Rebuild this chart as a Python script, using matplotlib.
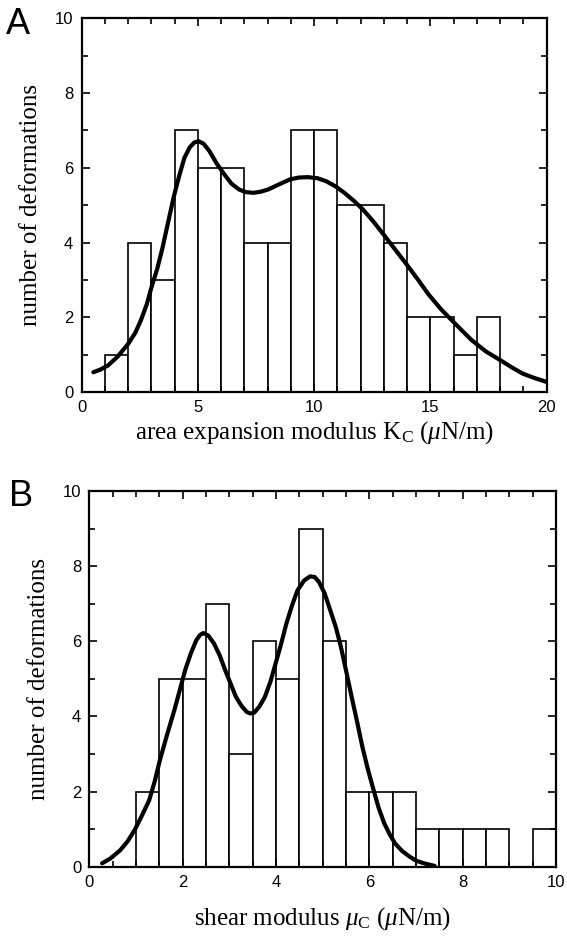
import numpy as np
import matplotlib.pyplot as plt
from matplotlib.ticker import MultipleLocator

# panel A: area expansion modulus histogram (bin width 1)
edges_a = list(range(0, 20))
counts_a = [0, 1, 4, 3, 7, 6, 6, 4, 4, 7, 7, 5, 5, 4, 2, 2, 1, 2, 0, 0]
fit_a_x = [0.5, 0.8, 1.13, 1.55, 2.0, 2.3, 2.54, 2.8, 3.0, 3.25, 3.48, 3.72,
           3.95, 4.2, 4.42, 4.65, 4.85, 5.04, 5.25, 5.5, 5.8, 6.14, 6.45, 6.77,
           7.05, 7.39, 7.7, 8.02, 8.5, 8.96, 9.35, 9.74, 10.15, 10.52, 10.9,
           11.3, 11.7, 12.09, 12.55, 13.03, 13.5, 13.97, 14.45, 14.91, 15.45,
           16.0, 16.4, 16.79, 17.4, 18.04, 18.5, 18.98, 19.5, 20.0]
fit_a_y = [0.53, 0.6, 0.71, 0.95, 1.29, 1.58, 1.91, 2.35, 2.8, 3.3, 3.87, 4.55,
           5.2, 5.8, 6.27, 6.55, 6.68, 6.71, 6.64, 6.44, 6.12, 5.82, 5.57, 5.42,
           5.35, 5.33, 5.36, 5.42, 5.56, 5.69, 5.74, 5.75, 5.72, 5.64, 5.51,
           5.33, 5.12, 4.89, 4.56, 4.18, 3.8, 3.42, 3.02, 2.62, 2.22,
           1.87, 1.62, 1.38, 1.08, 0.84, 0.66, 0.49, 0.37, 0.27]

# panel B: shear modulus histogram (bin width 0.5)
edges_b = [i * 0.5 for i in range(20)]
counts_b = [0, 0, 2, 5, 5, 7, 3, 6, 5, 9, 6, 2, 2, 2, 1, 1, 1, 1, 0, 1]
fit_b_x = [0.27, 0.45, 0.66, 0.82, 0.97, 1.12, 1.28, 1.4, 1.51, 1.66, 1.82,
           1.94, 2.05, 2.17, 2.29, 2.37, 2.44, 2.55, 2.67, 2.79, 2.91, 3.03,
           3.14, 3.26, 3.37, 3.45, 3.53, 3.64, 3.76, 3.88, 3.99, 4.11, 4.22,
           4.34, 4.46, 4.6, 4.73, 4.83, 4.92, 5.04, 5.16, 5.28, 5.39, 5.5,
           5.62, 5.74, 5.85, 5.97, 6.09, 6.2, 6.32, 6.44, 6.55, 6.7, 6.86,
           7.0, 7.17, 7.4]
fit_b_y = [0.09, 0.22, 0.44, 0.68, 0.98, 1.35, 1.77, 2.28, 2.84, 3.5, 4.17,
           4.72, 5.23, 5.67, 6.03, 6.17, 6.22, 6.15, 5.94, 5.63, 5.23, 4.86,
           4.52, 4.28, 4.12, 4.08, 4.10, 4.26, 4.52, 4.93, 5.41, 5.94, 6.47,
           6.95, 7.36, 7.62, 7.73, 7.71, 7.58, 7.28, 6.83, 6.38, 5.85, 5.22,
           4.52, 3.84, 3.19, 2.58, 2.04, 1.56, 1.15, 0.85, 0.62, 0.42, 0.27,
           0.16, 0.09, 0.02]

serif = 'Liberation Serif'
sans = 'Liberation Sans'

plt.rcParams['mathtext.fontset'] = 'custom'
plt.rcParams['mathtext.rm'] = serif
plt.rcParams['mathtext.it'] = serif + ':italic'

fig = plt.figure(figsize=(5.67, 9.39), dpi=100)
ax_a = fig.add_axes([0.1441, 0.5825, 0.820, 0.398])
ax_b = fig.add_axes([0.1578, 0.077, 0.8228, 0.400])


def style(ax, xmax, xmajor, xminor, xlabel, labelpad):
    ax.set_xlim(0, xmax)
    ax.set_ylim(0, 10)
    ax.xaxis.set_major_locator(MultipleLocator(xmajor))
    ax.xaxis.set_minor_locator(MultipleLocator(xminor))
    ax.yaxis.set_major_locator(MultipleLocator(2))
    ax.yaxis.set_minor_locator(MultipleLocator(1))
    ax.tick_params(which='both', direction='in', top=True, right=True,
                   width=1.2, color='black')
    ax.tick_params(which='major', length=6, labelsize=12, pad=6)
    ax.tick_params(which='minor', length=4)
    for lab in ax.get_xticklabels() + ax.get_yticklabels():
        lab.set_family(sans)
    for s in ax.spines.values():
        s.set_linewidth(1.6)
    ax.set_ylabel('number of deformations', family=serif, fontsize=18,
                  labelpad=9)
    ax.set_xlabel(xlabel, family=serif, fontsize=18, labelpad=labelpad)


ax_a.bar(edges_a, counts_a, width=1, align='edge', facecolor='white',
         edgecolor='black', linewidth=1.2)
ax_a.plot(fit_a_x, fit_a_y, color='black', linewidth=3,
          solid_capstyle='round', solid_joinstyle='round')
style(ax_a, 20, 5, 1, r'area expansion modulus K$_\mathregular{C}$ ($\mu$N/m)', 3)

ax_b.bar(edges_b, counts_b, width=0.5, align='edge', facecolor='white',
         edgecolor='black', linewidth=1.2)
ax_b.plot(fit_b_x, fit_b_y, color='black', linewidth=3,
          solid_capstyle='round', solid_joinstyle='round')
style(ax_b, 10, 2, 0.5, r'shear modulus $\mu_\mathregular{C}$ ($\mu$N/m)', 11)

fig.text(0.032, 0.974, 'A', family=sans, fontsize=26, ha='center', va='center')
fig.text(0.038, 0.471, 'B', family=sans, fontsize=26, ha='center', va='center')

fig.savefig('out.png', dpi=100)
